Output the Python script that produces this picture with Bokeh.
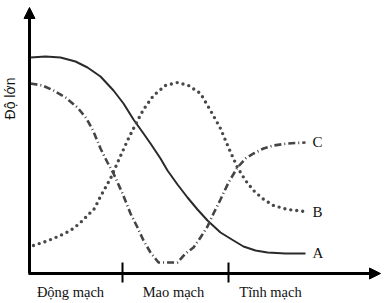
from bokeh.plotting import figure
from bokeh.models import Range1d, Arrow, NormalHead
from bokeh.core.properties import value
from bokeh.embed import file_html
from bokeh.resources import INLINE
import math

# Curve A (solid)
a_x = [1, 16, 31, 46, 58, 71, 84, 94, 104, 114, 121, 131, 138, 148, 158, 168, 178, 191, 204, 214, 226, 238, 256, 276]
a_y = [215, 216, 215, 211, 205, 196, 182, 169, 153, 139, 129, 114, 102, 88, 75, 63, 52, 40, 32, 26, 22, 20, 19, 19]

# Curve B (dotted)
b_x = [4, 16, 24, 33, 41, 50, 58, 65, 71, 76, 81, 89, 98, 106, 114, 124, 136, 148, 159, 171, 181, 191, 199, 208, 216, 224, 233, 244, 258, 276]
b_y = [27, 31, 34, 38, 42, 49, 57, 64, 76, 85, 94, 112, 132, 148, 163, 177, 187, 190, 187, 179, 162, 144, 125, 105, 92, 82, 74, 67, 63, 61]

# Curve C (dash-dot)
c_x = [1, 13, 24, 36, 48, 57, 64, 71, 78, 84, 93, 101, 108, 114, 121, 129, 148, 156, 164, 171, 178, 184, 191, 199, 208, 216, 224, 234, 244, 258, 276]
c_y = [189, 187, 182, 175, 165, 154, 141, 124, 110, 99, 79, 59, 45, 32, 20, 10, 10, 19, 25, 35, 46, 59, 73, 90, 105, 114, 119, 124, 127, 129, 130]

curve_labels = ["A", "B", "C"]
label_x = [283, 283, 283]
label_y = [20, 61, 131]

region_labels = ["Động mạch", "Mao mạch", "Tĩnh mạch"]
region_x = [41, 144, 241]
region_y = [-19, -19, -19]
boundary_x = [93, 199]

y_title = "Độ lớn"

p = figure(width=392, height=303, output_backend="svg", toolbar_location=None,
           x_range=Range1d(-29, 363), y_range=Range1d(-31, 272),
           min_border=0, min_border_left=0, min_border_right=0,
           min_border_top=0, min_border_bottom=0)
p.xaxis.visible = False
p.yaxis.visible = False
p.grid.visible = False
p.outline_line_color = None
p.background_fill_color = "white"
p.border_fill_color = "white"

# axes with arrows
p.add_layout(Arrow(end=NormalHead(size=11, fill_color="black", line_color="black"),
                   x_start=0, y_start=-1, x_end=0, y_end=265,
                   line_width=3, line_color="black"))
p.add_layout(Arrow(end=NormalHead(size=11, fill_color="black", line_color="black"),
                   x_start=-1, y_start=-1, x_end=351, y_end=-1,
                   line_width=3, line_color="black"))

# boundary ticks
p.segment(x0=boundary_x, y0=[10, 10], x1=boundary_x, y1=[-10, -10],
          line_width=2, line_color="black")

# curves
p.line(a_x, a_y, line_width=2, line_color="#2a2a2a")
p.line(b_x, b_y, line_width=3.4, line_color="#484848",
       line_dash="0 6", line_cap="round")
p.line(c_x, c_y, line_width=2.6, line_color="#444444",
       line_dash="7 3 1 3")

# curve labels
p.text(x=label_x, y=label_y, text=curve_labels, text_font=value("Liberation Serif"),
       text_font_size="15px", text_align="left", text_baseline="middle",
       text_color="#111111")

# region labels
p.text(x=region_x, y=region_y, text=region_labels, text_font=value("Liberation Serif"),
       text_font_size="14.5px", text_align="center", text_baseline="middle",
       text_color="#111111")

# y title
p.text(x=[-20], y=[174], text=[y_title], text_font=value("Liberation Sans"),
       text_font_size="14px", text_align="center", text_baseline="middle",
       angle=math.pi / 2, text_color="#111111")

open("out.html", "w").write(file_html(p, INLINE))
